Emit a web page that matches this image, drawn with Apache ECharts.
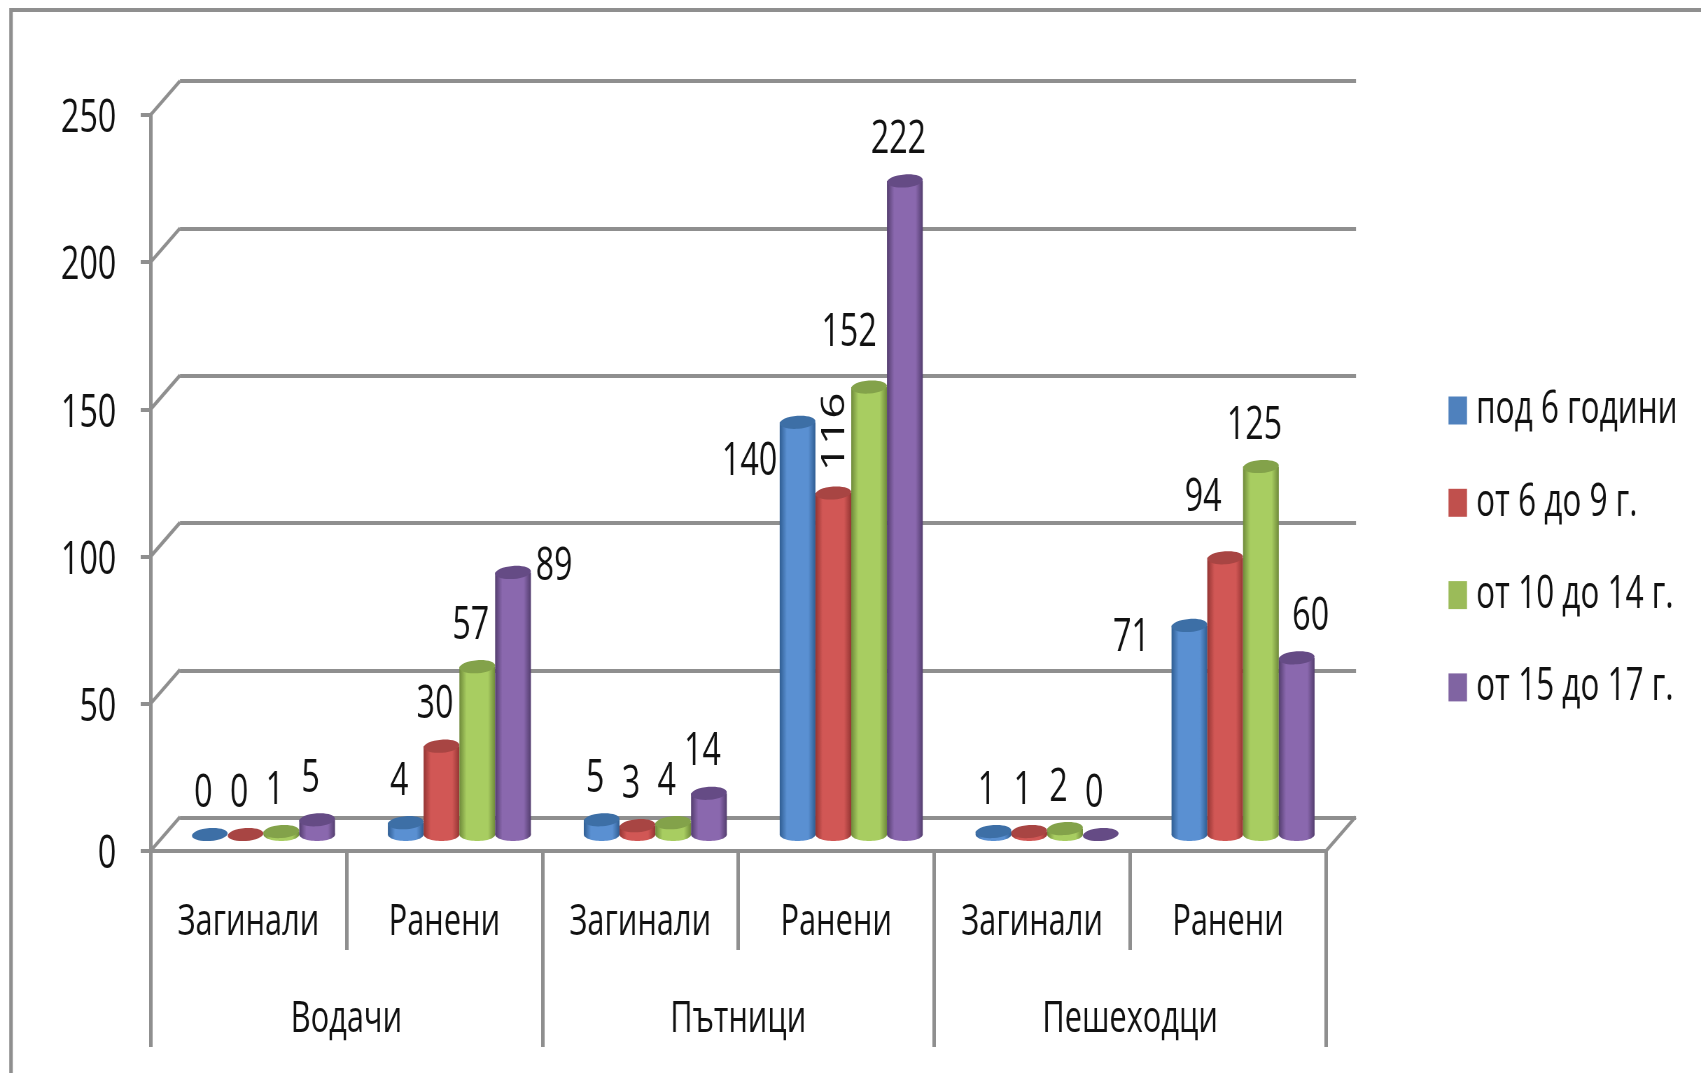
<!DOCTYPE html>
<html><head><meta charset="utf-8">
<style>
html,body{margin:0;padding:0;background:#fff;overflow:hidden;width:1701px;height:1073px}
#c{position:absolute;left:0;top:0;height:1073px;transform-origin:0 0;filter:blur(0.5px)}
</style>
<script src="https://cdn.jsdelivr.net/npm/echarts@6/dist/echarts.min.js"></script>
</head><body><div id="c"></div>
<script>
// ---- data ----
const subCategories = ['Загинали','Ранени','Загинали','Ранени','Загинали','Ранени'];
const groupCategories = ['Водачи','Пътници','Пешеходци'];
const seriesNames = ['под 6 години','от 6 до 9 г.','от 10 до 14 г.','от 15 до 17 г.'];
const under6 = [0,4,5,140,1,71];
const from6to9 = [0,30,3,116,1,94];
const from10to14 = [1,57,4,152,2,125];
const from15to17 = [5,89,14,222,0,60];
const yTicks = [0,50,100,150,200,250];

// ---- style ----
const SQ = 0.7;                 // the reference is horizontally squeezed
const X = v => v / SQ;
const GRAY = '#8f8f8f';
const INK = '#111111';
const FONT = '"Open Sans","Noto Sans",sans-serif';
const swatch = ['#4f81bd','#c0504d','#9bbb59','#8064a2'];
const palette = [
  {edge:'#2f5d92',mid:'#5a90d2',top:'#3d6fa6'},
  {edge:'#943533',mid:'#d15755',top:'#a84543'},
  {edge:'#6f8a3a',mid:'#a8cd61',top:'#83a24a'},
  {edge:'#533d6e',mid:'#8a68ae',top:'#654b85'}
];
const labelNudge = {'3-1':[41,-6],'0-3':[-48,40],'1-3':[2,-61],'2-3':[-20,-54],'0-5':[-58,12],'1-5':[-22,-60],'3-5':[14,-41]};
const FRONT = {l:150.5,r:1326,t:115,b:851};
const MID   = {l:165.5,r:1341,t:98.5,b:834.5};
const BACK  = {l:180,r:1356,t:81,b:818};
const gridOf = g => ({left:X(g.l),width:X(g.r-g.l),top:g.t,height:g.b-g.t,containLabel:false});

const el = document.getElementById('c');
el.style.width = X(1701)+'px';
el.style.transform = 'scaleX('+SQ+')';
const chart = echarts.init(el,null,{renderer:'canvas',width:X(1701),height:1073});

function cylinder(si,values){
  const p = palette[si];
  return function(params,api){
    const v = api.value(1), c = api.value(0);
    const top = api.coord([c,v]), base = api.coord([c,0]);
    const catW = api.size([1,0])[0];
    const w = catW*0.73/4;
    const cx = top[0] + (si-1.5)*w;
    const x = cx-w/2, ry = 6.5;
    const grad = new echarts.graphic.LinearGradient(0,0,1,0,[
      {offset:0,color:p.edge},{offset:0.2,color:p.mid},{offset:0.55,color:p.mid},{offset:0.8,color:p.mid},{offset:1,color:p.edge}]);
    const children = [];
    if(v>0){
      children.push({type:'ellipse',shape:{cx:cx,cy:base[1],rx:w/2,ry:ry},style:{fill:grad}});
      children.push({type:'rect',shape:{x:x,y:top[1],width:w,height:base[1]-top[1]},style:{fill:grad}});
    }
    children.push({type:'ellipse',shape:{cx:cx,cy:top[1],rx:w/2,ry:ry},rotation:0.05,originX:cx,originY:top[1],style:{fill:p.top}});
    const n = labelNudge[si+'-'+c] || [-6.5,-41];
    const rotated = si===1 && c===3;
    children.push({type:'text',x:cx+X(n[0]),y:top[1]+n[1],rotation:rotated?Math.PI/2:0,z2:50,
      style:{text:String(v),font:'46px '+FONT,fill:INK,align:'center',verticalAlign:'middle'}});
    return {type:'group',children:children};
  };
}
const allValues = [under6,from6to9,from10to14,from15to17];
const barSeries = allValues.map((vals,si)=>({
  name:seriesNames[si],type:'custom',xAxisIndex:3,yAxisIndex:2,
  itemStyle:{color:swatch[si]},
  data:vals.map((v,i)=>[i,v]),encode:{x:0,y:1},clip:false,z:5,
  renderItem:cylinder(si,vals),silent:true
}));
const lineShape = (x1,y1,x2,y2)=>({type:'line',shape:{x1,y1,x2,y2},style:{stroke:GRAY,lineWidth:4}});
const dx = X(BACK.l-FRONT.l), dy = BACK.t-FRONT.t;
const wallSeries = {
  type:'custom',xAxisIndex:0,yAxisIndex:0,silent:true,z:3,clip:false,
  data:yTicks.map(t=>[0,t]),encode:{y:1},
  renderItem(params,api){
    const y = api.coord([0,api.value(1)])[1], xl = params.coordSys.x;
    const kids = [lineShape(xl,y,xl+dx,y+dy)];
    if(api.value(1)===0){
      const xr = xl+params.coordSys.width;
      kids.push(lineShape(xr,y,xr+dx,y+dy));
    }
    return {type:'group',children:kids};
  }
};
const axisLine = {show:true,lineStyle:{color:GRAY,width:4}};
const hidden = {axisLine:{show:false},axisTick:{show:false},axisLabel:{show:false},splitLine:{show:false}};
chart.setOption({
  animation:false,backgroundColor:'#fff',textStyle:{fontFamily:FONT},
  grid:[gridOf(FRONT),gridOf(BACK),gridOf(MID)],
  xAxis:[
    {gridIndex:0,type:'category',data:subCategories,position:'bottom',axisLine:axisLine,
     axisTick:{show:true,length:99,lineStyle:{color:GRAY,width:5}},
     axisLabel:{interval:0,fontSize:44,color:INK,fontFamily:FONT,margin:49,hideOverlap:false}},
    {gridIndex:0,type:'category',data:groupCategories,position:'bottom',axisLine:{show:false},
     axisTick:{show:true,length:196,lineStyle:{color:GRAY,width:5}},
     axisLabel:{interval:0,fontSize:44,color:INK,fontFamily:FONT,margin:146}},
    Object.assign({gridIndex:1,type:'category',data:subCategories},hidden),
    Object.assign({gridIndex:2,type:'category',data:subCategories},hidden)
  ],
  yAxis:[
    {gridIndex:0,type:'value',min:0,max:250,interval:50,axisLine:{show:true,lineStyle:{color:GRAY,width:5}},
     axisTick:{show:true,length:14,lineStyle:{color:GRAY,width:4}},splitLine:{show:false},
     axisLabel:{margin:49,formatter:'{a|{value}}',rich:{a:{fontSize:46,color:INK,fontFamily:FONT,padding:[8,0,0,0]}}}},
    {gridIndex:1,type:'value',min:0,max:250,interval:50,axisLine:{show:false},axisTick:{show:false},axisLabel:{show:false},
     splitLine:{show:true,lineStyle:{color:GRAY,width:4}}},
    Object.assign({gridIndex:2,type:'value',min:0,max:250,interval:50},hidden)
  ],
  legend:{show:true,orient:'vertical',left:X(1445),top:383,data:seriesNames,icon:'rect',
    itemWidth:X(18.5),itemHeight:28,itemGap:47.3,selectedMode:false,
    textStyle:{fontSize:45,color:INK,fontFamily:FONT,padding:[0,0,0,8]}},
  graphic:[
    {type:'line',shape:{x1:X(11),y1:10,x2:X(1701),y2:10},style:{stroke:GRAY,lineWidth:4}},
    {type:'line',shape:{x1:X(11),y1:8,x2:X(11),y2:1073},style:{stroke:GRAY,lineWidth:5}}
  ],
  series:[wallSeries].concat(barSeries)
});
</script></body></html>
